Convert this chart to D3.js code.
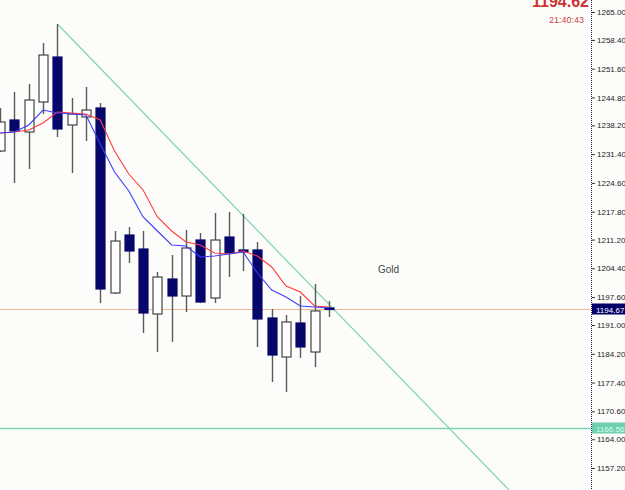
<!DOCTYPE html>
<html><head><meta charset="utf-8">
<script src="https://cdn.jsdelivr.net/npm/d3@7"></script>
<style>html,body{margin:0;padding:0;background:#fcfdfb;overflow:hidden}</style>
</head><body>
<svg id="c" width="625" height="490"></svg>
<script>
const opens  = [1232.14,1239.47,1236.63,1243.72,1254.36,1238.29,1240.18,1242.31,1198.57,1212.28,1208.97,1193.61,1201.88,1197.86,1211.10,1197.39,1211.81,1208.74,1208.74,1192.66,1183.44,1191.48,1184.62,1195.03];
const highs  = [1242.31,1246.09,1247.98,1257.67,1262.16,1244.67,1247.27,1243.49,1213.23,1214.17,1213.23,1203.54,1207.55,1213.46,1212.76,1217.48,1217.72,1217.25,1210.63,1194.79,1193.37,1197.86,1200.70,1196.68];
const lows   = [1231.90,1224.58,1227.89,1240.89,1235.45,1226.94,1234.50,1196.21,1198.34,1205.66,1189.12,1184.62,1186.99,1194.08,1196.21,1196.21,1202.35,1203.77,1185.81,1177.53,1175.17,1183.21,1181.08,1192.90];
const closes = [1239.00,1236.87,1244.20,1254.83,1237.34,1240.89,1241.83,1199.52,1210.86,1208.50,1193.84,1202.35,1197.86,1209.21,1196.44,1211.10,1208.03,1208.26,1192.43,1183.91,1191.72,1185.81,1194.32,1194.67];
const maFast = [1236.40,1236.63,1238.29,1241.83,1241.12,1240.89,1240.65,1233.80,1227.18,1222.68,1216.54,1213.23,1209.92,1209.68,1207.08,1207.32,1207.79,1208.26,1203.30,1199.28,1197.63,1195.50,1195.26,1195.03];
const maSlow = [1236.40,1236.63,1237.10,1238.76,1241.36,1241.12,1240.89,1239.47,1232.14,1226.70,1222.92,1216.54,1213.23,1210.63,1209.92,1208.03,1207.79,1208.50,1207.32,1204.72,1200.23,1198.81,1195.50,1195.26];
const trendIdx = [4, 35.6];
const trendPrice = [1262.16, 1152.0];
const tickValues = [1265.00,1258.40,1251.60,1244.80,1238.20,1231.40,1224.60,1217.80,1211.20,1204.40,1197.60,1191.00,1184.20,1177.40,1170.60,1164.00,1157.20];
const bidPrice = 1194.67;
const levelPrice = 1166.56;
const symbolLabel = "Gold";
const topPrice = "1194.62";
const clockText = "21:40:43";

const svg = d3.select("#c");
const W = 625, H = 490, axisX = 591;
svg.append("rect").attr("width", W).attr("height", H).attr("fill", "#fcfdfb");

const x = d3.scaleLinear().domain([0, 23]).range([0.2, 328.9]);
const y = d3.scaleLinear().domain([1157.20, 1265.00]).range([468, 12]);

svg.append("defs").append("clipPath").attr("id", "plot")
  .append("rect").attr("x", 0).attr("y", 0).attr("width", axisX).attr("height", H);
const g = svg.append("g").attr("clip-path", "url(#plot)");

// horizontal levels
g.append("line").attr("x1", 0).attr("x2", axisX)
  .attr("y1", Math.round(y(bidPrice)) + 0.5).attr("y2", Math.round(y(bidPrice)) + 0.5)
  .attr("stroke", "#f2b89c").attr("stroke-width", 1);
g.append("line").attr("x1", 0).attr("x2", axisX)
  .attr("y1", Math.round(y(levelPrice)) + 0.5).attr("y2", Math.round(y(levelPrice)) + 0.5)
  .attr("stroke", "#7fd3b3").attr("stroke-width", 1.3);

// trend line
g.append("line")
  .attr("x1", x(trendIdx[0])).attr("y1", y(trendPrice[0]))
  .attr("x2", x(trendIdx[1])).attr("y2", y(trendPrice[1]))
  .attr("stroke", "#7fd3b3").attr("stroke-width", 1.2);

const idx = d3.range(opens.length);
const bw = 9;

// wicks
g.selectAll(".wick").data(idx).join("line")
  .attr("x1", i => Math.round(x(i)) + 0.5).attr("x2", i => Math.round(x(i)) + 0.5)
  .attr("y1", i => y(highs[i])).attr("y2", i => y(lows[i]))
  .attr("stroke", "#5a5a5a").attr("stroke-width", 1.4);

// bodies
g.selectAll(".body").data(idx).join("rect")
  .attr("x", i => Math.round(x(i)) - bw / 2 + 0.5)
  .attr("y", i => y(Math.max(opens[i], closes[i])))
  .attr("width", bw)
  .attr("height", i => Math.max(1.5, Math.abs(y(opens[i]) - y(closes[i]))))
  .attr("fill", i => closes[i] >= opens[i] ? "#ffffff" : "#07076b")
  .attr("stroke", i => closes[i] >= opens[i] ? "#444" : "#07076b")
  .attr("stroke-width", 1.2);

// moving averages
const line = d3.line().x((d, i) => x(i)).y(d => y(d));
g.append("path").datum(maSlow).attr("d", line).attr("fill", "none")
  .attr("stroke", "#ff3c3c").attr("stroke-width", 1.1);
g.append("path").datum(maFast).attr("d", line).attr("fill", "none")
  .attr("stroke", "#3c3cff").attr("stroke-width", 1.1);

// symbol label
svg.append("text").attr("x", 378).attr("y", 273).text(symbolLabel)
  .attr("font-family", "Liberation Sans, Arial, sans-serif").attr("font-size", 10).attr("fill", "#444");

// axis
svg.append("line").attr("x1", axisX + 0.5).attr("x2", axisX + 0.5).attr("y1", 0).attr("y2", H)
  .attr("stroke", "#1a1a4a").attr("stroke-width", 1).attr("stroke-dasharray", "1,1");
const axis = d3.axisRight(y).tickValues(tickValues).tickFormat(d3.format(".2f")).tickSize(3).tickPadding(2);
const ag = svg.append("g").attr("transform", `translate(${axisX + 1},0)`).call(axis);
ag.select(".domain").remove();
ag.selectAll(".tick line").attr("stroke", "#333");
ag.selectAll(".tick text").attr("fill", "#222")
  .attr("font-family", "Liberation Sans, Arial, sans-serif").attr("font-size", 8);

// price tags
function tag(price, bg, fg) {
  const yy = Math.round(y(price));
  svg.append("rect").attr("x", axisX + 1).attr("y", yy - 5.5).attr("width", W - axisX).attr("height", 11).attr("fill", bg);
  svg.append("text").attr("x", axisX + 5).attr("y", yy + 3.5).text(d3.format(".2f")(price))
    .attr("font-family", "Liberation Sans, Arial, sans-serif").attr("font-size", 8).attr("fill", fg);
}
tag(bidPrice, "#000066", "#ffffff");
tag(levelPrice, "#6fcfae", "#d8fff0");

// top texts
svg.append("text").attr("x", 589).attr("y", 7).attr("text-anchor", "end").text(topPrice)
  .attr("font-family", "Liberation Sans, Arial, sans-serif").attr("font-weight", "bold").attr("font-size", 16).attr("fill", "#cc3333");
svg.append("text").attr("x", 584).attr("y", 23).attr("text-anchor", "end").text(clockText)
  .attr("font-family", "Liberation Sans, Arial, sans-serif").attr("font-size", 9).attr("fill", "#cc4444");
</script>
</body></html>
